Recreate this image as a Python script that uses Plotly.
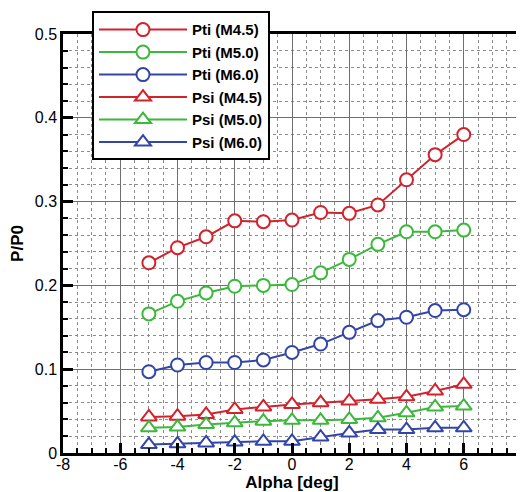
import plotly.graph_objects as go

alpha = [-5, -4, -3, -2, -1, 0, 1, 2, 3, 4, 5, 6]

pti_m45 = [0.227, 0.245, 0.258, 0.277, 0.276, 0.278, 0.287, 0.286, 0.296, 0.326, 0.356, 0.380]
pti_m50 = [0.166, 0.181, 0.191, 0.199, 0.200, 0.201, 0.215, 0.231, 0.249, 0.264, 0.264, 0.266]
pti_m60 = [0.097, 0.105, 0.108, 0.108, 0.111, 0.120, 0.130, 0.144, 0.158, 0.162, 0.170, 0.171]
psi_m45 = [0.043, 0.044, 0.046, 0.052, 0.055, 0.058, 0.060, 0.062, 0.064, 0.067, 0.074, 0.082]
psi_m50 = [0.030, 0.031, 0.034, 0.036, 0.038, 0.039, 0.039, 0.040, 0.042, 0.048, 0.055, 0.056]
psi_m60 = [0.010, 0.011, 0.012, 0.013, 0.014, 0.014, 0.019, 0.024, 0.028, 0.028, 0.030, 0.030]

series_names = ["Pti (M4.5)", "Pti (M5.0)", "Pti (M6.0)", "Psi (M4.5)", "Psi (M5.0)", "Psi (M6.0)"]
series_values = [pti_m45, pti_m50, pti_m60, psi_m45, psi_m50, psi_m60]

x_tickvals = [-8, -6, -4, -2, 0, 2, 4, 6, 8]
x_ticktext = ["-8", "-6", "-4", "-2", "0", "2", "4", "6", "8"]
y_tickvals = [0, 0.1, 0.2, 0.3, 0.4, 0.5]
y_ticktext = ["0", "0.1", "0.2", "0.3", "0.4", "0.5"]

RED = "#d2222c"
GREEN = "#3cb83c"
BLUE = "#3346a8"
colors = [RED, GREEN, BLUE, RED, GREEN, BLUE]
symbols = ["circle", "circle", "circle", "triangle-up", "triangle-up", "triangle-up"]

FONT = "Liberation Sans, Arial, sans-serif"

fig = go.Figure()
for name, vals, col, sym in zip(series_names, series_values, colors, symbols):
    fig.add_trace(go.Scatter(
        x=alpha, y=vals, name=name, mode="lines+markers",
        line=dict(color=col, width=2),
        marker=dict(symbol=sym, size=13 if sym == "circle" else 14,
                    color="white", line=dict(color=col, width=2)),
    ))

axis_common = dict(
    showline=True, linecolor="black", linewidth=2.5, mirror=True,
    ticks="inside", ticklen=10, tickwidth=2.5, tickcolor="black",
    showgrid=True, gridcolor="#6f6f6f", gridwidth=1,
    zeroline=False, automargin=False,
    tickfont=dict(family=FONT, size=16, color="black"),
)

fig.update_xaxes(
    range=[-8, 8], tickmode="array", tickvals=x_tickvals, ticktext=x_ticktext,
    ticklabelstandoff=-5,
    minor=dict(dtick=0.5, tick0=0, ticks="inside", ticklen=5, tickwidth=1.5, tickcolor="black",
               showgrid=True, gridcolor="#8c8c8c", griddash="dot", gridwidth=1),
    title=dict(text="Alpha [deg]", font=dict(family=FONT, size=17, color="black", weight="bold"), standoff=2),
    **axis_common,
)
fig.update_yaxes(
    range=[0, 0.5], tickmode="array", tickvals=y_tickvals, ticktext=y_ticktext,
    minor=dict(dtick=0.02, tick0=0, ticks="inside", ticklen=5, tickwidth=1.5, tickcolor="black",
               showgrid=True, gridcolor="#8c8c8c", griddash="dot", gridwidth=1),
    title=dict(text="P/P0", font=dict(family=FONT, size=17, color="black", weight="bold"), standoff=8),
    **axis_common,
)

# page body has an 8px default margin, so the figure is 8px smaller than the window
fig.update_layout(
    width=516, height=484,
    margin=dict(l=55, r=3, t=24, b=39),
    plot_bgcolor="white", paper_bgcolor="white",
    font=dict(family=FONT, color="black"),
    legend=dict(
        x=0.0633, y=1.054, xanchor="left", yanchor="top",
        bgcolor="white", bordercolor="black", borderwidth=2,
        font=dict(family=FONT, size=15, color="black", weight="bold"),
        itemwidth=88, tracegroupgap=0, entrywidth=85,
    ),
)

fig.write_html("out.html")
